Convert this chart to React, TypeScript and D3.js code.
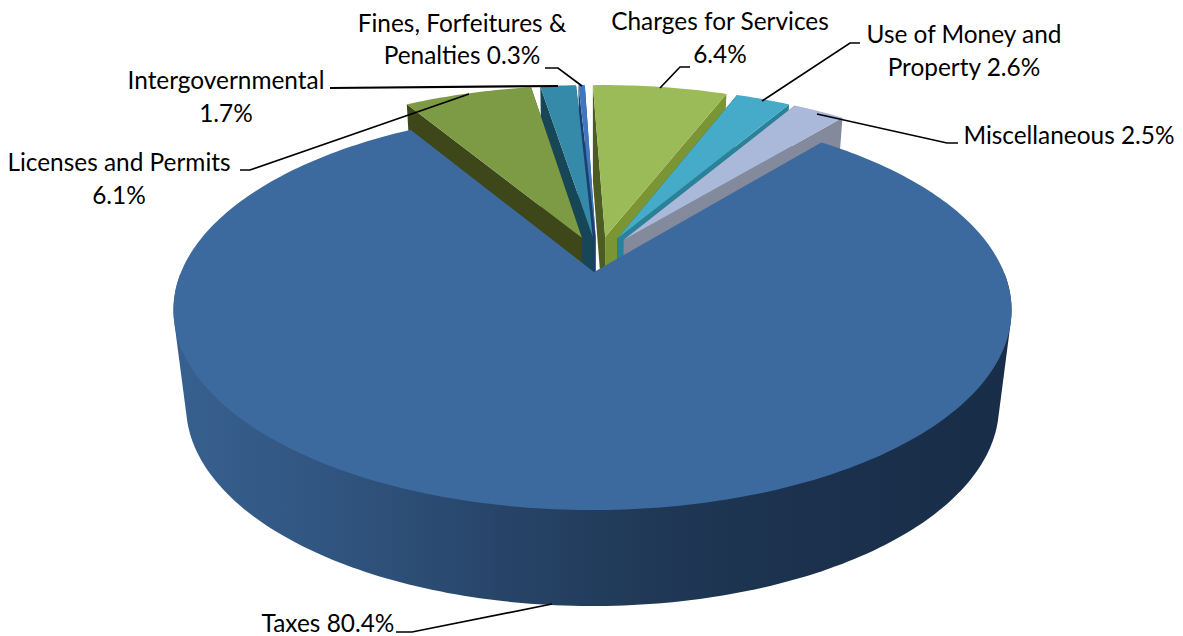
import React from "react";
import * as d3 from "d3";

// Revenue shares by source, clockwise from twelve o'clock.
const categories = [
  "Charges for Services",
  "Use of Money and Property",
  "Miscellaneous",
  "Taxes",
  "Licenses and Permits",
  "Intergovernmental",
  "Fines, Forfeitures & Penalties",
];
const shares = [6.4, 2.6, 2.5, 80.4, 6.1, 1.7, 0.3];
const topColors = ["#9bbb59", "#45abc8", "#aab9da", "#3d6a9e", "#7d9a44", "#348aa8", "#3f78c0"];
const radialLeftColors = ["#4d5c22", "#1f6577", "#6f7a92", "#24405f", "#3d4719", "#174656", "#1d3f6e"];
const radialRightColors = ["#7b9434", "#2a8299", "#838a9c", "#24405f", "#3d4719", "#174656", "#1d3f6e"];

// Paint order: wedges further from the viewer go first, the large wedge last.
const paintOrder = [6, 5, 4, 0, 1, 2, 3];

// Leader lines and label blocks.
const labels = [
  { lines: ["Fines, Forfeitures &", "Penalties 0.3%"], x: [462, 462], y: [32, 64] },
  { lines: ["Charges for Services", "6.4%"], x: [720, 720], y: [30, 63] },
  { lines: ["Use of Money and", "Property 2.6%"], x: [964, 964], y: [43, 76] },
  { lines: ["Miscellaneous 2.5%"], x: [1069], y: [144] },
  { lines: ["Intergovernmental", "1.7%"], x: [226, 226], y: [89, 122] },
  { lines: ["Licenses and Permits", "6.1%"], x: [119, 119], y: [171, 204] },
  { lines: ["Taxes 80.4%"], x: [328], y: [632] },
];
const leaders: [number, number][][] = [
  [[545, 68], [558, 68], [582, 86]],
  [[660, 88], [680, 67], [690, 67]],
  [[762, 101], [850, 43], [860, 43]],
  [[817, 114], [947, 143], [958, 143]],
  [[330, 88], [558, 86]],
  [[240, 170], [250, 170], [469, 94]],
  [[396, 632], [412, 632], [552, 604]],
];

// Perspective of the pie's plane on screen.
const W = 1183;
const H = 636;
const cx = 594;
const cy = 272;
const K = 0.19;
const A = 411.4;
const B = 192.8;
const explodeU = 0.115;
const explodeV = 0.095;
const startDeg = -1.8;
const depth = 96;
const converge = 0.97;
const taxesRimShift = -1.5;

type P = [number, number];

const project = (u: number, v: number): P => {
  const w = 1 - K * v;
  return [cx + (A * u) / w, cy + (B * v) / w];
};
const extrude = ([x, y]: P): P => [cx + (x - cx) * converge, y + depth];

const pie = d3
  .pie<number>()
  .sort(null)
  .startAngle((startDeg * Math.PI) / 180)
  .endAngle(((startDeg + 360) * Math.PI) / 180);
const arcs = pie(shares);

const dir = (a: number): P => [Math.sin(a), -Math.cos(a)];
const taxesArc = arcs[3];
const taxesDir = dir((taxesArc.startAngle + taxesArc.endAngle) / 2);

const linePath = d3.line<P>();

export default function App() {
  const wedges = paintOrder.map((i) => {
    const a = arcs[i];
    const mid = dir((a.startAngle + a.endAngle) / 2);
    const isTaxes = i === 3;
    const ou = explodeU * (mid[0] - taxesDir[0]);
    const ov = explodeV * (mid[1] - taxesDir[1]);
    const steps = Math.max(6, Math.ceil(((a.endAngle - a.startAngle) * 180) / Math.PI));
    const rim: P[] = d3.range(steps + 1).map((s) => {
      const t = a.startAngle + ((a.endAngle - a.startAngle) * s) / steps;
      const d = dir(t);
      const [x, y] = project(ou + d[0], ov + d[1]);
      return [isTaxes ? x + taxesRimShift : x, y];
    });
    const apex = project(ou, ov);
    const top = linePath([apex, ...rim])! + "Z";
    const first = rim[0];
    const last = rim[rim.length - 1];
    const leftWall = linePath([apex, first, extrude(first), extrude(apex)])! + "Z";
    const rightWall = linePath([apex, last, extrude(last), extrude(apex)])! + "Z";
    // The round side seen from the front: hull of the near rim and its lower copy.
    const nearRim = rim.filter((p) => p[1] > cy);
    const hull = d3.polygonHull([...nearRim, ...nearRim.map(extrude)]);
    const outerWall = hull ? linePath(hull)! + "Z" : "";
    return { i, isTaxes, top, leftWall, rightWall, outerWall };
  });

  return (
    <svg
      width={W}
      height={H}
      viewBox={`0 0 ${W} ${H}`}
      style={{ position: "absolute", left: 0, top: 0, background: "#fff" }}
    >
      <defs>
        <linearGradient id="rimShade" gradientUnits="userSpaceOnUse" x1={173} y1={0} x2={1011} y2={0}>
          <stop offset="0" stopColor="#38608f" />
          <stop offset="0.2" stopColor="#30547f" />
          <stop offset="0.42" stopColor="#264265" />
          <stop offset="0.56" stopColor="#203957" />
          <stop offset="0.75" stopColor="#1b314d" />
          <stop offset="1" stopColor="#182d47" />
        </linearGradient>
      </defs>
      {wedges.map((w) => (
        <g key={categories[w.i]}>
          {w.isTaxes ? (
            <path d={w.outerWall} fill="url(#rimShade)" />
          ) : (
            <>
              <path d={w.leftWall} fill={radialLeftColors[w.i]} />
              <path d={w.rightWall} fill={radialRightColors[w.i]} />
            </>
          )}
          <path d={w.top} fill={topColors[w.i]} />
        </g>
      ))}
      {leaders.map((pts, i) => (
        <path key={i} d={linePath(pts)!} fill="none" stroke="#000" strokeWidth={i === 4 ? 2.2 : 1.7} />
      ))}
      {labels.map((l) =>
        l.lines.map((t, j) => (
          <text
            key={t}
            x={l.x[j]}
            y={l.y[j]}
            textAnchor="middle"
            fontFamily="Lato, 'Open Sans', sans-serif"
            fontSize={24.4}
            fill="#000"
          >
            {t}
          </text>
        ))
      )}
    </svg>
  );
}
